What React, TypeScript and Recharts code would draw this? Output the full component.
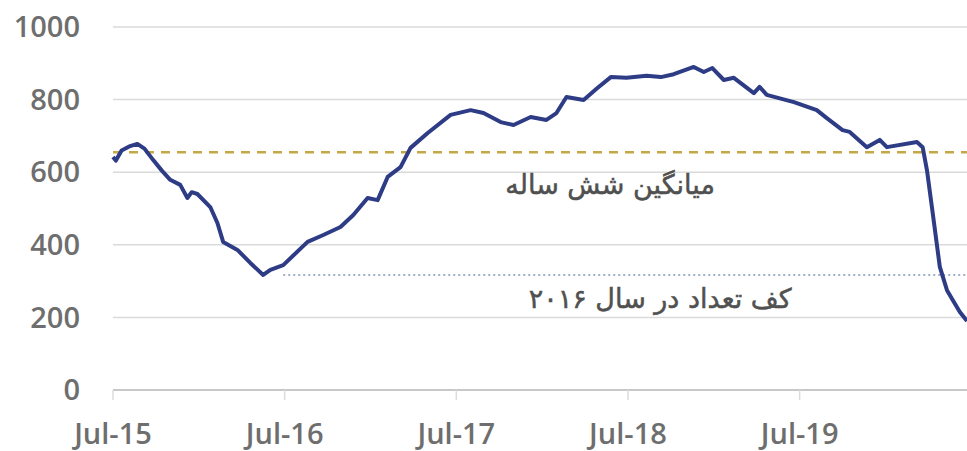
import {
  LineChart, Line, XAxis, YAxis, CartesianGrid, ReferenceLine, ReferenceDot,
} from "recharts";

// months since Jul-15
const monthOffsets = [
  0, 0.2, 0.6, 1.2, 1.7, 2.2, 2.8, 3.4, 4.0, 4.7, 5.2, 5.5, 5.9, 6.8, 7.3, 7.7,
  8.7, 9.6, 10.5, 11.0, 11.9, 13.6, 14.7, 15.9, 16.8, 17.8, 18.5, 19.2, 20.1,
  20.8, 22.0, 23.6, 25.0, 25.9, 27.1, 28.0, 29.2, 30.3, 31.0, 31.7, 32.9, 33.8,
  34.8, 35.9, 37.3, 38.3, 39.2, 40.6, 41.3, 41.9, 42.7, 43.4, 44.8, 45.2, 45.7,
  47.6, 49.2, 49.9, 51.0, 51.5, 52.7, 53.6, 54.1, 56.2, 56.6, 56.9, 57.3, 57.8,
  58.3, 58.7, 59.2, 59.7,
];
const rigCounts = [
  642, 632, 660, 672, 678, 665, 634, 605, 579, 565, 529, 545, 540, 504, 460, 408,
  386, 350, 317, 331, 344, 408, 427, 449, 482, 529, 523, 587, 614,
  667, 708, 758, 771, 763, 738, 730, 752, 744, 763, 807, 799, 830,
  862, 860, 866, 862, 870, 890, 876, 887, 854, 860, 818, 835, 813,
  793, 771, 749, 716, 711, 669, 689, 669, 683, 669, 606, 488, 339,
  275, 248, 215, 190,
];

const tickMonths = [0, 12, 24, 36, 48];
const tickLabels = ["Jul-15", "Jul-16", "Jul-17", "Jul-18", "Jul-19"];
const yTicks = [0, 200, 400, 600, 800, 1000];

const sixYearAverage = 655;
const floor2016 = 317;
const averageLabel = "میانگین شش ساله";
const floorLabel = "کف تعداد در سال ۲۰۱۶";

const data = monthOffsets.map((m, i) => ({ m, count: rigCounts[i] }));

const axisFont = {
  fill: "#6e6e6e", fontSize: 29, fontWeight: 600, fontFamily: "'Open Sans', sans-serif",
};

function PersianLabel({ viewBox, text }: { viewBox?: any; text: string }) {
  const cx = viewBox ? viewBox.x + viewBox.width / 2 : 0;
  const cy = viewBox ? viewBox.y + viewBox.height / 2 : 0;
  return (
    <text x={cx} y={cy} textAnchor="middle" dominantBaseline="central"
      direction="rtl" fill="#505050" fontSize={27} fontFamily="'DejaVu Sans', sans-serif"
      stroke="#505050" strokeWidth={0.5}>
      {text}
    </text>
  );
}

export default function App() {
  return (
    <div style={{ position: "absolute", left: 0, top: 0, width: 967, height: 451, background: "#fff" }}>
      <LineChart width={967} height={451} data={data}
        margin={{ top: 27, right: 0, bottom: 0, left: 0 }}>
        <CartesianGrid vertical={false} stroke="#dadada" strokeWidth={1.5} />
        <XAxis type="number" dataKey="m" domain={[0, 59.7]} ticks={tickMonths} interval={0}
          tickFormatter={(v: number) => tickLabels[tickMonths.indexOf(v)]}
          axisLine={{ stroke: "#c8c8c8", strokeWidth: 2 }}
          tickLine={{ stroke: "#dcdcdc", strokeWidth: 1.5 }}
          tickSize={10} tickMargin={23} height={61} tick={axisFont} />
        <YAxis domain={[0, 1000]} ticks={yTicks} interval={0} width={113}
          axisLine={false} tickLine={false} tickSize={0} tickMargin={33} tick={axisFont} />
        <ReferenceLine y={sixYearAverage} stroke="#c6a747" strokeWidth={2.5} strokeDasharray="9 7" />
        <ReferenceLine segment={[{ x: 11.9, y: floor2016 }, { x: 59.7, y: floor2016 }]}
          stroke="#9fb0c8" strokeWidth={2} strokeDasharray="2 3" />
        <ReferenceDot x={34.75} y={565} r={0} fill="none" stroke="none"
          label={<PersianLabel text={averageLabel} />} />
        <ReferenceDot x={38.25} y={253} r={0} fill="none" stroke="none"
          label={<PersianLabel text={floorLabel} />} />
        <Line type="linear" dataKey="count" stroke="#2d3c85" strokeWidth={4}
          strokeLinejoin="round" dot={false} isAnimationActive={false} />
      </LineChart>
    </div>
  );
}
